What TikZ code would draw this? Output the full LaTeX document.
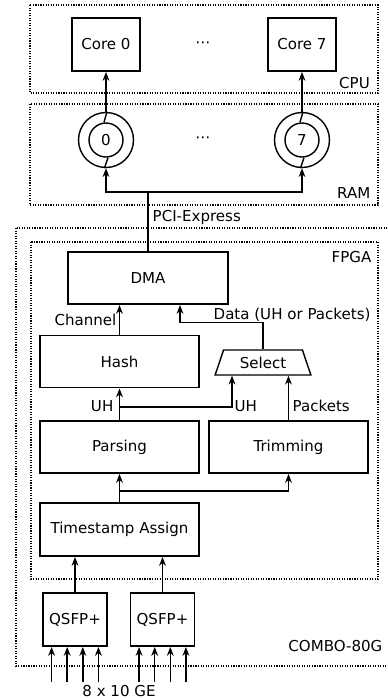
\documentclass[tikz,border=0pt]{standalone}
\usepackage{fontspec}
\setmainfont{DejaVu Sans}
\usetikzlibrary{arrows.meta, positioning, calc, shapes.geometric}

\begin{document}
\begin{tikzpicture}[x=0.25mm, y=-0.25mm,
  every node/.style={font=\fontsize{10.7}{12.8}\selectfont},
  blockbox/.style={draw, line width=1.4pt, minimum width=39.75mm,
    minimum height=13mm, inner sep=0pt},
  smallbox/.style={draw, line width=1.4pt, minimum width=17mm,
    minimum height=13.25mm, inner sep=0pt},
  selbox/.style={draw, trapezium, trapezium left angle=67,
    trapezium right angle=67, trapezium stretches=true, line width=1pt,
    minimum width=24mm, minimum height=6.25mm, inner sep=0pt},
  ringout/.style={draw, circle, line width=1pt, minimum size=13.75mm, inner sep=0pt},
  ringin/.style={draw, circle, line width=1pt, minimum size=8.5mm, inner sep=0pt},
  zonebox/.style={densely dotted, line width=0.8pt},
  lbl/.style={inner sep=1pt},
  arr/.style={-{Stealth[length=2.2mm, width=1.7mm, inset=0.7mm]}, line width=1pt},
]

\useasboundingbox (0,0) rectangle (388,698);

% Zones
\draw[zonebox] (30,5) rectangle (378,93);
\node[lbl, anchor=east] (cpulbl) at (371.5,83) {CPU};
\draw[zonebox] (30,104) rectangle (378,205);
\node[lbl, anchor=east] (ramlbl) at (372,193) {RAM};
\draw[zonebox] (16,228) rectangle (395,666);
\node[lbl, anchor=east] (combolbl) at (384,646) {COMBO-80G};
\draw[zonebox] (31,242) rectangle (378,579);
\node[lbl, anchor=east] (fpgalbl) at (373,257) {FPGA};

% CPU cores
\node[smallbox] (c0) at (106,44.5) {Core 0};
\node[smallbox] (c7) at (302,44.5) {Core 7};
\node (cdots) at (203,45) {⋯};

% RAM ring buffers
\node[ringout] (r0) at (106,140) {};
\node[ringin] (r0in) at (106,140) {0};
\node[ringout] (r7) at (302,140) {};
\node[ringin] (r7in) at (302,140) {7};
\node (rdots) at (203,140) {⋯};
\foreach \r in {r0, r7} {
  \draw[line width=1pt] ([xshift=0.25mm]\r.north) -- ([xshift=-0.5mm]\r in.north);
  \draw[line width=1pt] ([xshift=0.5mm]\r in.south) -- ([xshift=-0.4mm]\r.south);
}
\draw[arr] (r0.north) -- (c0.south);
\draw[arr] (r7.north) -- (c7.south);

% FPGA blocks
\node[blockbox, minimum width=40mm] (dma) at (148,278) {DMA};
\node[blockbox] (hash) at (119.5,361.5) {Hash};
\node[selbox] (sel) at (263,362.5) {Select};
\node[blockbox] (pars) at (119.5,447) {Parsing};
\node[blockbox] (trim) at (288.5,447) {Trimming};
\node[blockbox, minimum height=13.25mm] (ts) at (119.5,529.5) {Timestamp Assign};

% Card inputs
\node[smallbox, minimum width=16mm] (q1) at (75,619.5) {QSFP+};
\node[smallbox, minimum width=16mm] (q2) at (162.5,619.5) {QSFP+};

% PCI-Express bus
\coordinate (bus) at (148,192);
\draw[arr] (dma.north) -- (bus) -| (r0.south);
\draw[arr] (bus) -| (r7.south);
\node[lbl, anchor=west] (pcilbl) at (151,217) {PCI-Express};

% Data paths
\draw[arr] (hash.north) -- (hash.north |- dma.south);
\node[lbl, anchor=east] (chlbl) at (118,320) {Channel};
\draw[arr] (sel.north) -- ++(0,-27) -| ([xshift=8mm]dma.south);
\node[lbl, anchor=west] (datalbl) at (212,315) {Data (UH or Packets)};

\draw[arr] (pars.north) -- (hash.south);
\draw[arr] ([yshift=3.25mm]pars.north) -| ([xshift=-7.75mm]sel.south);
\draw[arr] (trim.north) -- (trim.north |- sel.south);
\node[lbl, anchor=east] (uhlbl1) at (115,406) {UH};
\node[lbl, anchor=west] (uhlbl2) at (233,406) {UH};
\node[lbl, anchor=west] (pktlbl) at (291,406) {Packets};

\draw[arr] (ts.north) -- (pars.south);
\draw[arr] ([yshift=2.75mm]ts.north) -| (trim.south);

\draw[arr] (q1.north) -- (q1.north |- ts.south);
\draw[arr] (q2.north) -- (q2.north |- ts.south);

% 10 GE links
\foreach \q in {q1, q2}
  \foreach \dx in {-5.85, -1.95, 1.95, 5.85}
    \draw[arr] ([xshift=\dx mm, yshift=-8.75mm]\q.south) -- ([xshift=\dx mm]\q.south);
\node (gelbl) at (119,691) {8 x 10 GE};

\end{tikzpicture}
\end{document}
